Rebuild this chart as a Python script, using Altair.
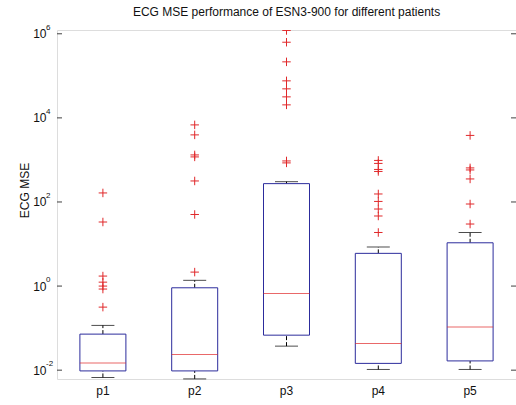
import altair as alt
import pandas as pd

patients = ["p1", "p2", "p3", "p4", "p5"]
lower_whisker = [0.0067, 0.0062, 0.0373, 0.0104, 0.0104]
q1 = [0.0096, 0.0096, 0.068, 0.0145, 0.0166]
median = [0.0149, 0.0237, 0.67, 0.0432, 0.107]
q3 = [0.072, 0.91, 273, 6.0, 10.7]
upper_whisker = [0.116, 1.37, 304, 8.5, 18.8]

outliers_p1 = [164, 33.4, 1.73, 1.24, 1.0, 0.85, 0.316]
outliers_p2 = [6810, 3940, 1315, 1180, 316, 50.4, 2.15]
outliers_p3 = [1.2e6, 6.3e5, 2.15e5, 7.6e4, 4.9e4, 3.16e4, 2.04e4, 946, 850]
outliers_p4 = [973, 826, 594, 532, 155, 103, 68, 46.4, 18.8]
outliers_p5 = [3830, 646, 578, 353, 89.5, 29.9]

tick_values = [1e-2, 1, 1e2, 1e4, 1e6]
tick_exponents = ["-2", "0", "2", "4", "6"]

y_domain = [10 ** -2.21, 10 ** 6.09]

stats = pd.DataFrame({
    "patient": patients, "lw": lower_whisker, "q1": q1, "med": median,
    "q3": q3, "uw": upper_whisker,
})
out_rows = []
for p, vals in zip(patients, [outliers_p1, outliers_p2, outliers_p3, outliers_p4, outliers_p5]):
    for v in vals:
        out_rows.append({"patient": p, "value": v})
outliers = pd.DataFrame(out_rows)
ticks = pd.DataFrame({"value": tick_values, "exp": tick_exponents})

FONT = "Liberation Sans"
BLUE = "#2c2c9c"
RED = "#e0282a"
FRAME = "#404040"

yscale = alt.Scale(type="log", domain=y_domain, nice=False)
xenc = alt.X("patient:N", scale=alt.Scale(domain=patients, paddingInner=0, paddingOuter=0),
             axis=alt.Axis(title=None, labelAngle=0, ticks=False, domain=False,
                           labelFontSize=12, labelFont=FONT, labelColor="#111",
                           labelPadding=6))
yaxis = alt.Axis(values=tick_values, labelExpr="'10'", ticks=False, domain=False, grid=False,
                 labelFontSize=12, labelFont=FONT, labelColor="#111", labelPadding=11,
                 title="ECG MSE", titleFont=FONT, titleFontSize=12, titleFontWeight="normal",
                 titleColor="#111", titleX=-33, titleY=160, titleAlign="center",
                 titleBaseline="middle", titleAngle=270)

base = alt.Chart(stats)

whisk_up = base.mark_rule(color="black", strokeWidth=1, strokeDash=[4, 2]).encode(
    x=xenc, y=alt.Y("q3:Q", scale=yscale, axis=yaxis), y2="uw:Q")
whisk_lo = base.mark_rule(color="black", strokeWidth=1, strokeDash=[4, 2]).encode(
    x=xenc, y=alt.Y("lw:Q", scale=yscale), y2="q1:Q")
box = base.mark_bar(size=46, fill="white", stroke=BLUE, strokeWidth=1).encode(
    x=xenc, y=alt.Y("q1:Q", scale=yscale), y2="q3:Q")
med = base.mark_tick(size=46, thickness=1, color=RED).encode(
    x=xenc, y=alt.Y("med:Q", scale=yscale))
cap_up = base.mark_tick(size=23, thickness=1, color="black").encode(
    x=xenc, y=alt.Y("uw:Q", scale=yscale))
cap_lo = base.mark_tick(size=23, thickness=1, color="black").encode(
    x=xenc, y=alt.Y("lw:Q", scale=yscale))

pts = alt.Chart(outliers).mark_point(
    shape="M-1,0L1,0M0,-1L0,1", size=72, filled=False, stroke=RED, strokeWidth=1,
    clip=True, opacity=1).encode(
    x=xenc, y=alt.Y("value:Q", scale=yscale))

tick_l = alt.Chart(ticks).mark_rule(color=FRAME, strokeWidth=1).encode(
    x=alt.value(0), x2=alt.value(5), y=alt.Y("value:Q", scale=yscale))
tick_r = alt.Chart(ticks).mark_rule(color=FRAME, strokeWidth=1).encode(
    x=alt.value(454), x2=alt.value(459), y=alt.Y("value:Q", scale=yscale))
exps = alt.Chart(ticks).mark_text(align="left", baseline="middle", dy=-6, fontSize=8,
                                  font=FONT, color="#111").encode(
    x=alt.value(-11), y=alt.Y("value:Q", scale=yscale), text="exp:N")

chart = alt.layer(whisk_up, whisk_lo, box, med, cap_up, cap_lo, pts, tick_l, tick_r, exps).properties(
    width=459, height=349,
    autosize=alt.AutoSizeParams(type="none"),
    padding={"left": 57, "top": 30, "right": 0, "bottom": 26},
    title=alt.Title("ECG MSE performance of ESN3-900 for different patients",
                    fontSize=12, fontWeight="normal", font=FONT, color="#111",
                    anchor="middle", baseline="alphabetic", offset=0, dy=4),
).configure_view(stroke=FRAME, strokeWidth=1).configure(background="white")

chart.save("out.html", embed_options={"renderer": "svg", "actions": False})
